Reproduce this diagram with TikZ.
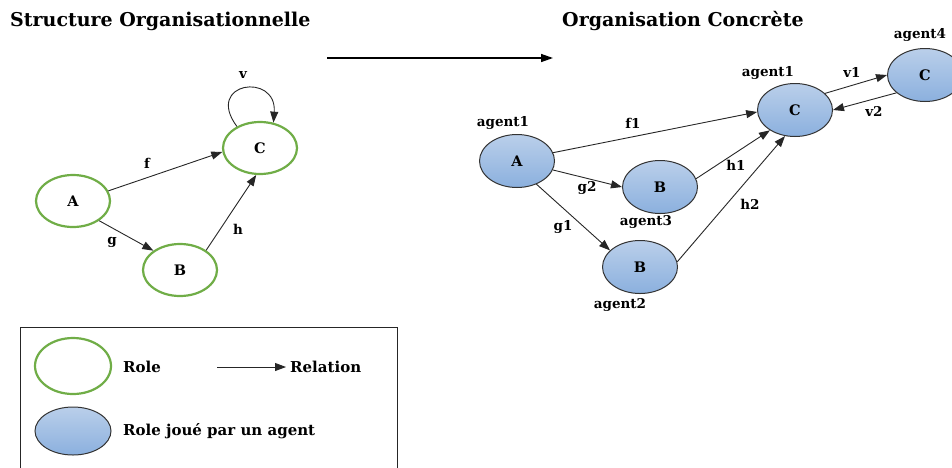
\documentclass[tikz,border=0pt]{standalone}
\usepackage{fontspec}
\setmainfont{DejaVu Serif}
\usetikzlibrary{shapes.geometric,arrows.meta}
\definecolor{rolegreen}{RGB}{112,173,71}
\definecolor{bluetop}{RGB}{186,207,234}
\definecolor{bluebot}{RGB}{139,176,222}
\tikzset{
  role/.style={ellipse,draw=rolegreen,line width=2.2pt,fill=white,minimum width=74pt,minimum height=52pt,inner sep=0pt,font=\fontsize{14.5}{16}\selectfont\bfseries},
  agentrole/.style={ellipse,draw=black!80,line width=1pt,top color=bluetop,bottom color=bluebot,minimum width=75pt,minimum height=53pt,inner sep=0pt,font=\fontsize{14.5}{16}\selectfont\bfseries},
  rel/.style={draw=black!85,line width=0.9pt,-{Triangle[length=11pt,width=8pt]}},
  lbl/.style={font=\fontsize{13.5}{15}\selectfont\bfseries,inner sep=1pt},
  leg/.style={font=\fontsize{15}{17}\selectfont\bfseries,inner sep=0pt},
  ttl/.style={font=\fontsize{19}{22}\selectfont\bfseries,inner sep=0pt}
}
\begin{document}
\begin{tikzpicture}[x=1pt,y=-1pt]
\useasboundingbox (0,0) rectangle (952,467);
\clip (0,0) rectangle (952,467);
% titles
\node[ttl,anchor=west] (t1) at (10,21) {Structure Organisationnelle};
\node[ttl,anchor=west] (t2) at (562,21) {Organisation Concrète};
\coordinate (bigs) at (327,58);
\coordinate (bige) at (553,58);
\draw[line width=1.4pt,-{Triangle[length=12pt,width=8pt]}] (bigs) -- (bige);
% left graph
\node[role] (a) at (73,201) {A};
\node[role] (c) at (260,148) {C};
\node[role] (b) at (180,270) {B};
\draw[rel] (a.16) -- (c.186);
\node[lbl] (fl) at (147,163) {f};
\draw[rel] (a.-37) -- (b.144);
\node[lbl] (gl) at (112,242) {g};
\draw[rel] (b.37) -- (c.262);
\node[lbl] (hl) at (238,229) {h};
\draw[rel] (c.137) .. controls (204,82) and (277,72) .. (c.62);
\node[lbl] (vl) at (243,75) {v};
% right graph
\node[agentrole] (ra) at (517,161) {A};
\node[agentrole] (rb3) at (660,187) {B};
\node[agentrole] (rb2) at (640,267) {B};
\node[agentrole] (rc1) at (795,110) {C};
\node[agentrole] (rc4) at (925,75) {C};
\node[lbl] (ag1a) at (503,123) {agent1};
\node[lbl] (ag3) at (646,222) {agent3};
\node[lbl] (ag2) at (620,305) {agent2};
\node[lbl] (ag1c) at (768,73) {agent1};
\node[lbl] (ag4) at (920,35) {agent4};
\draw[rel] (ra.13) -- (rc1.183);
\node[lbl] at (633,123) {f1};
\draw[rel] (ra.-14) -- (rb3.180);
\node[lbl] at (587,188) {g2};
\draw[rel] (ra.-50) -- (rb2.151);
\node[lbl] at (563,227) {g1};
\draw[rel] (rb3.13) -- (rc1.219);
\node[lbl] at (736,165) {h1};
\draw[rel] (rb2.8) -- (rc1.249);
\node[lbl] at (750,204) {h2};
\draw[rel] (rc1.29) -- (rc4.180);
\node[lbl] at (852,72) {v1};
\draw[rel] (rc4.212) -- (rc1.0);
\node[lbl] at (874,111) {v2};
% legend
\coordinate (lg1) at (20,470);
\coordinate (lg2) at (20,327);
\coordinate (lg3) at (397,327);
\coordinate (lg4) at (397,470);
\draw[line width=1pt,black!85] (lg1) -- (lg2) -- (lg3) -- (lg4);
\node[role,minimum width=76pt,minimum height=56pt] (lrole) at (73,366) {};
\node[agentrole,minimum width=76pt,minimum height=48pt] (lagent) at (73,431) {};
\node[leg,anchor=west] (trole) at (123,367) {Role};
\coordinate (las) at (217,367);
\coordinate (lae) at (286,367);
\draw[rel] (las) -- (lae);
\node[leg,anchor=west] (trel) at (290,367) {Relation};
\node[leg,anchor=west] (tagent) at (123,431) {Role joué par un agent};
\end{tikzpicture}
\end{document}
